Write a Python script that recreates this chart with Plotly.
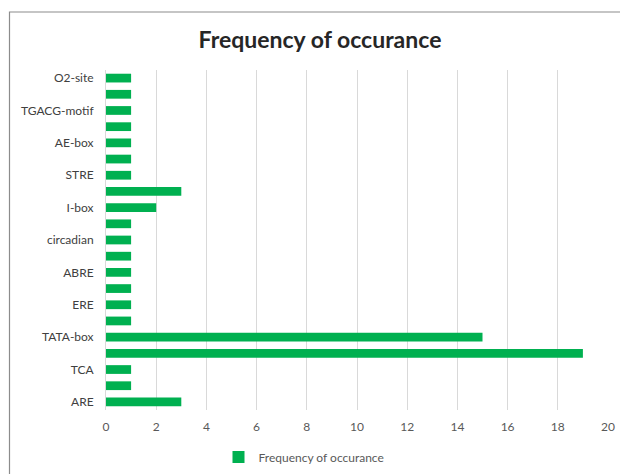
import plotly.graph_objects as go

# Motif names, bottom to top; blank entries are rows drawn without a tick label
motifs = ["ARE", "", "TCA", "", "TATA-box", "", "ERE", "", "ABRE", "",
          "circadian", "", "I-box", "", "STRE", "", "AE-box", "", "TGACG-motif", "", "O2-site"]
counts = [3, 1, 1, 19, 15, 1, 1, 1, 1, 1,
          1, 1, 2, 3, 1, 1, 1, 1, 1, 1, 1]
x_ticks = list(range(0, 21, 2))

positions = list(range(len(motifs)))
label_pos = [p for p, m in zip(positions, motifs) if m]
label_txt = [m for m in motifs if m]

fig = go.Figure(go.Bar(
    x=counts, y=positions, orientation="h",
    marker=dict(color="#00B050", line=dict(width=0)),
    name="Frequency of occurance",
))

L, R, T, B = 106, 12, 70, 64
W, H = 620, 474
pw, ph = W - L - R, H - T - B

fig.update_layout(
    width=W, height=H,
    margin=dict(l=L, r=R, t=T, b=B, autoexpand=False),
    paper_bgcolor="white", plot_bgcolor="white",
    bargap=0.46,
    font=dict(family="Lato, Noto Sans, sans-serif", color="#595959", size=12),
    title=dict(text="<b>Frequency of occurance</b>", x=(320 - L) / pw, xref="paper",
               xanchor="center", y=1 - 40 / H, yanchor="middle",
               font=dict(size=23, color="#262626", family="Lato, Noto Sans, sans-serif")),
    showlegend=True,
    legend=dict(orientation="h", x=(304 - L) / pw, xanchor="center",
                yref="container", y=(H - 457) / H, yanchor="middle",
                font=dict(size=12, color="#595959"),
                itemwidth=30, traceorder="normal"),
    xaxis=dict(range=[0, 20], tickvals=x_ticks, showgrid=True, gridcolor="#D9D9D9",
               gridwidth=1, zeroline=False, showline=False, ticks="",
               ticklabelstandoff=8, automargin=False,
               tickfont=dict(size=12, color="#595959")),
    yaxis=dict(range=[-0.5, len(motifs) - 0.5], tickvals=label_pos, ticktext=label_txt,
               showgrid=False, zeroline=False, showline=True, linecolor="#D9D9D9",
               ticks="", ticklabelstandoff=9, automargin=False,
               tickfont=dict(size=12, color="#404040")),
    shapes=[dict(type="rect", xref="paper", yref="paper",
                 x0=(9.5 - L) / pw, x1=(W + 60 - L) / pw,
                 y0=-(H + 60 - (H - B)) / ph, y1=1 + (T - 12) / ph,
                 line=dict(color="#8C8C8C", width=1.2), fillcolor="rgba(0,0,0,0)",
                 layer="below")],
)

fig.write_html("out.html")
